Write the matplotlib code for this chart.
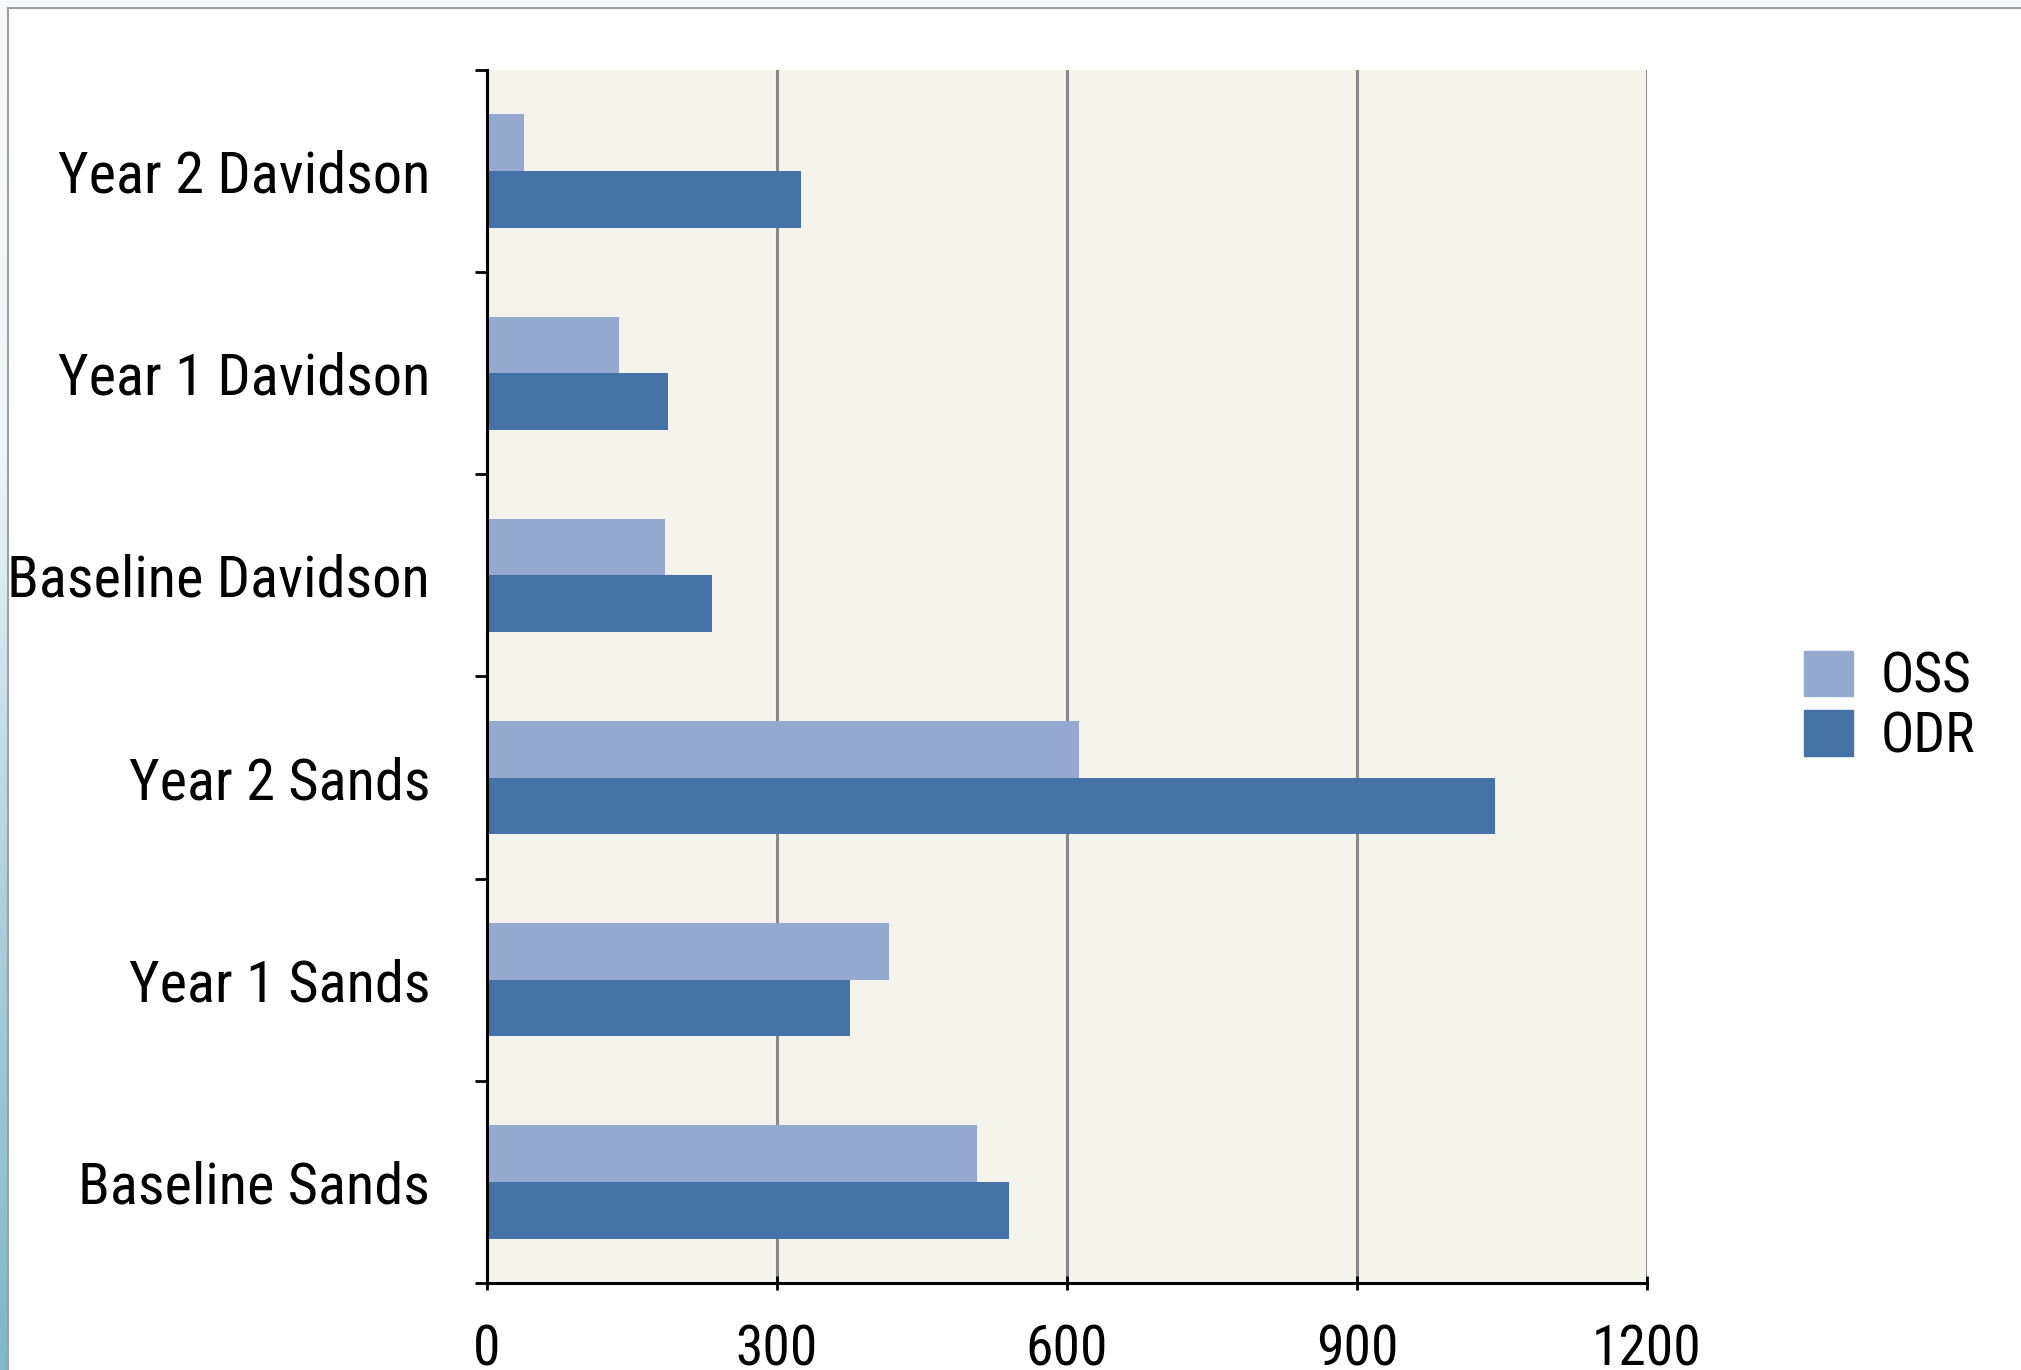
import numpy as np
import matplotlib.pyplot as plt
from matplotlib.patches import Patch
from matplotlib.lines import Line2D

categories = ["Baseline Sands", "Year 1 Sands", "Year 2 Sands",
              "Baseline Davidson", "Year 1 Davidson", "Year 2 Davidson"]
oss = [507, 416, 612, 184, 137, 38]
odr = [540, 375, 1043, 233, 187, 325]
xticks = [0, 300, 600, 900, 1200]

plt.rcParams['font.family'] = ['Roboto Condensed', 'DejaVu Sans']

fig = plt.figure(figsize=(20.21, 13.7), dpi=100)
ax = fig.add_axes([487/2021, 1-1283/1370, (1647-487)/2021, (1283-70)/1370])
ax.set_facecolor("#F4F3EC")

y = np.arange(len(categories))
h = 0.28
ax.barh(y + h/2, oss, height=h, color="#95A9D0", label="OSS", zorder=3)
ax.barh(y - h/2, odr, height=h, color="#4673A7", label="ODR", zorder=3)

ax.set_xlim(0, 1200)
ax.set_ylim(-0.5, len(categories) - 0.5)
ax.set_xticks(xticks)
ax.set_xticklabels([str(v) for v in xticks], fontsize=40)
ax.set_yticks(y)
ax.set_yticklabels(categories, fontsize=42)
ax.set_yticks(np.arange(-0.5, len(categories)), minor=True)
ax.tick_params(axis='y', which='major', length=0, pad=41)
ax.tick_params(axis='y', which='minor', length=9, width=2, direction='out')
ax.tick_params(axis='x', length=10, width=2, direction='inout', pad=24)

ax.grid(axis='x', color="#888888", linewidth=2.2, zorder=1)
for s in ["top", "right"]:
    ax.spines[s].set_visible(False)
for s in ["left", "bottom"]:
    ax.spines[s].set_linewidth(2.2)
    ax.spines[s].set_zorder(4)

fig.legend(handles=[Patch(color="#95A9D0", label="OSS"), Patch(color="#4673A7", label="ODR")],
           loc="center left", bbox_to_anchor=(1776/2021, 1-707/1370), frameon=False,
           fontsize=40, handlelength=0.88, handleheight=0.88, labelspacing=0.12,
           handletextpad=0.5, borderpad=0)

# slide frame and left gradient strip
strip = fig.add_axes([0, 0, 8/2021, 1])
grad = np.linspace(0, 1, 256).reshape(-1, 1)
strip.imshow(grad, aspect='auto', cmap=plt.matplotlib.colors.LinearSegmentedColormap.from_list(
    "s", ["#7FB8C8", "#A9D0DB", "#EEF5F8", "#F7FAFC"]), extent=[0, 1, 0, 1], origin='lower')
strip.axis('off')
fig.add_artist(Line2D([8/2021, 8/2021], [0, 1-8/1370], color="#A0A0A0", lw=1.5))
fig.add_artist(Line2D([8/2021, 1], [1-8/1370, 1-8/1370], color="#A0A0A0", lw=1.5))
fig.add_artist(plt.Rectangle((8/2021, 1-8/1370), 1, 8/1370, color="#F4F8FA", zorder=0))

fig.savefig("out.png", dpi=100)
